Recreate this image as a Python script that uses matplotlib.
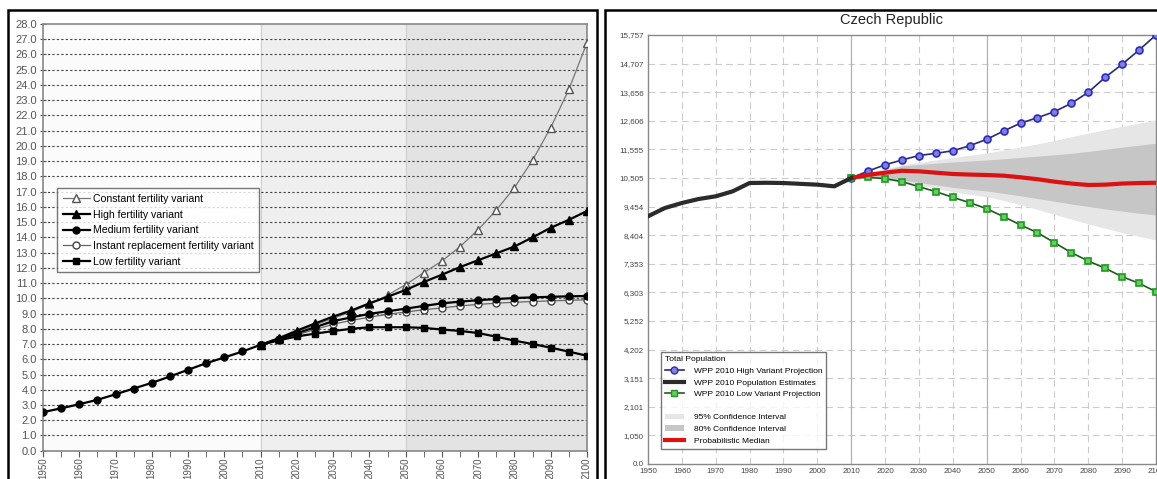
import matplotlib.pyplot as plt
from matplotlib.lines import Line2D
from matplotlib.patches import Rectangle, Patch

plt.rcParams['font.family'] = ['Liberation Sans', 'DejaVu Sans']

# LEFT PANEL DATA: world population (billions)
hist_years = list(range(1950, 2015, 5))
hist_pop = [2.53, 2.78, 3.05, 3.34, 3.70, 4.08, 4.45, 4.87, 5.31, 5.74, 6.12, 6.51, 6.95]
proj_years = list(range(2010, 2105, 5))
constant = [6.95, 7.35, 7.80, 8.25, 8.68, 9.12, 9.60, 10.20, 10.90, 11.68, 12.45, 13.39,
            14.50, 15.79, 17.26, 19.07, 21.20, 23.71, 26.77]
high = [6.95, 7.38, 7.88, 8.35, 8.80, 9.20, 9.67, 10.10, 10.55, 11.07, 11.55, 12.05,
        12.50, 12.95, 13.40, 14.00, 14.63, 15.15, 15.73]
medium = [6.95, 7.30, 7.70, 8.10, 8.50, 8.75, 8.98, 9.15, 9.32, 9.50, 9.67, 9.78,
          9.88, 9.95, 10.02, 10.06, 10.10, 10.13, 10.15]
instant = [6.95, 7.25, 7.60, 7.95, 8.30, 8.55, 8.76, 8.95, 9.10, 9.25, 9.37, 9.50,
           9.60, 9.68, 9.74, 9.79, 9.83, 9.87, 9.90]
low = [6.95, 7.24, 7.50, 7.68, 7.85, 8.00, 8.10, 8.10, 8.10, 8.06, 7.95, 7.86,
       7.72, 7.48, 7.22, 7.00, 6.76, 6.50, 6.23]
left_yticks = list(range(0, 29))

# RIGHT PANEL DATA: Czech Republic (thousands)
cz_hist = [9100, 9403, 9587, 9734, 9832, 10015, 10321, 10330, 10320, 10290, 10260, 10199, 10505]
cz_high = [10505, 10760, 10990, 11166, 11330, 11410, 11505, 11690, 11925, 12230, 12520, 12720,
           12940, 13248, 13652, 14203, 14680, 15206, 15757]
cz_low = [10505, 10530, 10480, 10370, 10186, 10002, 9795, 9598, 9378, 9084, 8779, 8497,
          8130, 7763, 7457, 7189, 6880, 6636, 6330]
cz_median = [10505, 10620, 10700, 10770, 10750, 10700, 10652, 10630, 10615, 10590, 10530, 10460,
             10370, 10300, 10248, 10260, 10300, 10320, 10330]
cz_up95 = [10505, 10700, 10850, 10985, 11080, 11170, 11260, 11340, 11420, 11530, 11640, 11760,
           11880, 12020, 12150, 12280, 12400, 12520, 12640]
cz_up80 = [10505, 10660, 10800, 10950, 11000, 11050, 11090, 11130, 11166, 11210, 11260, 11310,
           11360, 11412, 11480, 11560, 11640, 11710, 11780]
cz_lo80 = [10505, 10560, 10500, 10431, 10340, 10250, 10160, 10090, 10030, 9940, 9850, 9750,
           9650, 9550, 9460, 9370, 9290, 9210, 9146]
cz_lo95 = [10505, 10530, 10440, 10370, 10250, 10120, 10000, 9900, 9818, 9680, 9520, 9350,
           9170, 8990, 8820, 8660, 8500, 8360, 8227]
cz_ytick_labels = ['0.0', '1,050', '2,101', '3,151', '4,202', '5,252', '6,303', '7,353', '8,404',
                   '9,454', '10,505', '11,555', '12,606', '13,656', '14,707', '15,757']

W, H = 1157, 479
fig = plt.figure(figsize=(W / 100, H / 100), dpi=100)


def px_axes(x0, y0, x1, y1):
    # axes from pixel box (top-left origin)
    return fig.add_axes([x0 / W, 1 - y1 / H, (x1 - x0) / W, (y1 - y0) / H])


# panel frames
fig.patches.append(Rectangle((8 / W, -0.01), 589 / W, 1 - 10 / H + 0.01, transform=fig.transFigure,
                             fill=False, ec='black', lw=1.8))
fig.patches.append(Rectangle((605 / W, -0.01), 560 / W, 1 - 10 / H + 0.01, transform=fig.transFigure,
                             fill=False, ec='black', lw=1.8))

# LEFT PANEL
ax = px_axes(43, 24, 587, 450.7)
ax.set_facecolor('#fbfbfb')
ax.axvspan(2010, 2050, color='#efefef', zorder=0)
ax.axvspan(2050, 2100, color='#e3e3e3', zorder=0)
ax.axvline(2010, color='#d0d0d0', lw=0.8, zorder=0)
ax.axvline(2050, color='#d0d0d0', lw=0.8, zorder=0)
for v in left_yticks[1:-1]:
    ax.axhline(v, color='#444444', lw=0.8, ls=(0, (2, 2)), zorder=1)

ax.plot(hist_years, hist_pop, color='black', lw=1.6, marker='o', ms=5, zorder=5)
ax.plot(proj_years, constant, color='#777777', lw=0.9, marker='^', ms=5.5, mfc='white', mec='#555555',
        label='Constant fertility variant', zorder=3)
ax.plot(proj_years, high, color='black', lw=1.6, marker='^', ms=5.5, label='High fertility variant', zorder=4)
ax.plot(proj_years, medium, color='black', lw=1.6, marker='o', ms=5, label='Medium fertility variant', zorder=4)
ax.plot(proj_years, instant, color='#666666', lw=0.9, marker='o', ms=5, mfc='white', mec='#444444',
        label='Instant replacement fertility variant', zorder=3)
ax.plot(proj_years, low, color='black', lw=1.6, marker='s', ms=5, label='Low fertility variant', zorder=4)

ax.set_xlim(1950, 2100)
ax.set_ylim(0, 28)
ax.set_yticks(left_yticks)
ax.set_yticklabels(['%.1f' % v for v in left_yticks])
ax.set_xticks(list(range(1950, 2101, 10)))
ax.set_xticks(list(range(1955, 2100, 10)), minor=True)
ax.tick_params(axis='x', which='major', labelrotation=90, labelsize=7, colors='#555555', length=4, pad=1)
ax.tick_params(axis='x', which='minor', length=4, colors='#555555')
ax.tick_params(axis='y', labelsize=8, colors='#555555', direction='inout', length=5, pad=2)
for s in ax.spines.values():
    s.set_color('#888888')
    s.set_linewidth(1.2)
leg = ax.legend(loc='upper left', bbox_to_anchor=(0.0165, 0.627), fontsize=7.6, frameon=True,
                fancybox=False, edgecolor='#555555', handlelength=2.6, labelspacing=0.55,
                borderpad=0.5, handletextpad=0.3)
leg.get_frame().set_linewidth(1.0)

# RIGHT PANEL
ax2 = px_axes(648, 35, 1156, 464)
ymax = 15757
ystep = ymax / 15
yt = [i * ystep for i in range(16)]
for v in yt[1:-1]:
    ax2.axhline(v, color='#cccccc', lw=0.8, ls=(0, (6, 4)), zorder=0)
for x in range(1960, 2100, 10):
    if x in (2010, 2050):
        ax2.axvline(x, color='#b0b0b0', lw=0.9, zorder=0)
    else:
        ax2.axvline(x, color='#cccccc', lw=0.8, ls=(0, (6, 4)), zorder=0)

ax2.fill_between(proj_years, cz_lo95, cz_up95, color='#e6e6e6', lw=0, zorder=1)
ax2.fill_between(proj_years, cz_lo80, cz_up80, color='#c6c6c6', lw=0, zorder=2)
ax2.plot(proj_years, cz_high, color='#2a2a70', lw=1.2, marker='o', ms=5, mfc='#7f7fe0', mec='#2b2bc0',
         mew=1.2, zorder=4)
ax2.plot(proj_years, cz_low, color='#1f5a1f', lw=1.2, marker='s', ms=5, mfc='#66cc66', mec='#1f9a1f',
         mew=1.2, zorder=4)
ax2.plot(proj_years, cz_median, color='#dd1111', lw=3, zorder=5, solid_capstyle='butt')
ax2.plot(hist_years, cz_hist, color='#2b2b2b', lw=3, zorder=5)

ax2.set_xlim(1950, 2100)
ax2.set_ylim(0, ymax)
ax2.set_yticks(yt)
ax2.set_yticklabels(cz_ytick_labels)
ax2.set_xticks(list(range(1950, 2101, 10)))
ax2.tick_params(labelsize=5.8, colors='#444444', length=0, pad=3)
for s in ax2.spines.values():
    s.set_color('#888888')
    s.set_linewidth(1.0)

handles = [
    Line2D([], [], color='#2a2a70', lw=1.2, marker='o', ms=5, mfc='#7f7fe0', mec='#2b2bc0'),
    Line2D([], [], color='#2b2b2b', lw=3),
    Line2D([], [], color='#1f5a1f', lw=1.2, marker='s', ms=5, mfc='#66cc66', mec='#1f9a1f'),
    Line2D([], [], color='none'),
    Patch(facecolor='#e6e6e6', edgecolor='none'),
    Patch(facecolor='#c6c6c6', edgecolor='none'),
    Line2D([], [], color='#dd1111', lw=3),
]
labels = ['WPP 2010 High Variant Projection', 'WPP 2010 Population Estimates',
          'WPP 2010 Low Variant Projection', '', '95% Confidence Interval',
          '80% Confidence Interval', 'Probabilistic Median']
leg2 = ax2.legend(handles, labels, title='Total Population', loc='lower left',
                  bbox_to_anchor=(0.0177, 0.026), fontsize=6, title_fontsize=6, frameon=True,
                  fancybox=False, edgecolor='#555555', handlelength=2.2, labelspacing=0.45,
                  borderpad=0.5, handletextpad=1.2)
leg2._legend_box.align = 'left'
leg2.get_frame().set_linewidth(1.0)

fig.text(892 / W, 1 - 20 / H, 'Czech Republic', ha='center', va='center', fontsize=10.5, color='#222222')

fig.savefig('out.png', dpi=100)
